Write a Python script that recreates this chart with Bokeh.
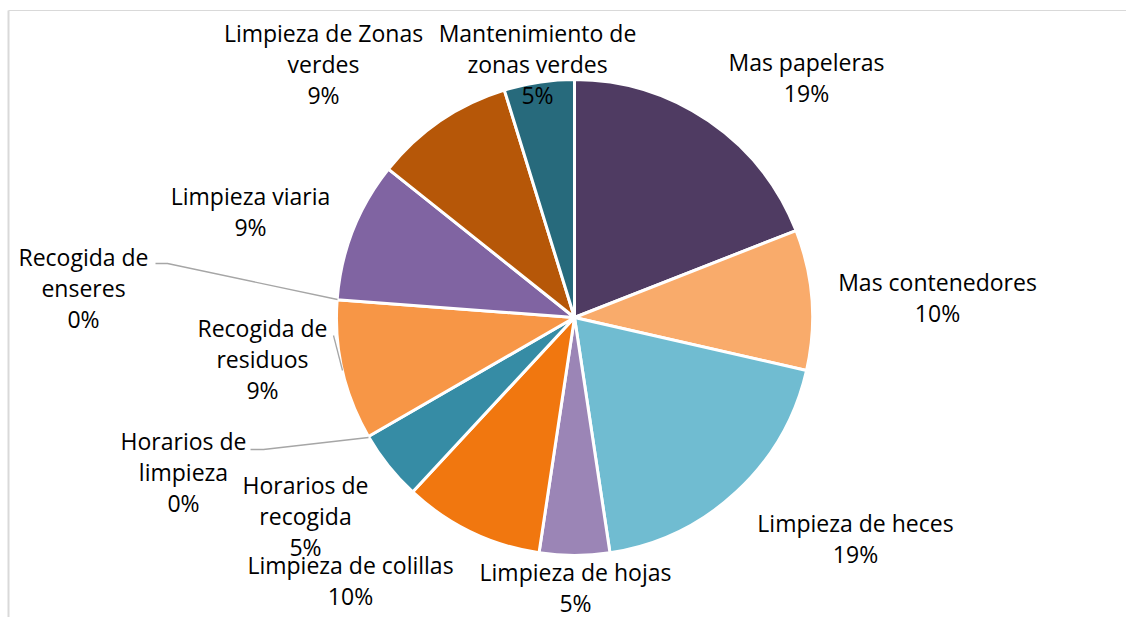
import math
from bokeh.plotting import figure
from bokeh.models import Range1d, ColumnDataSource
from bokeh.core.properties import value
from bokeh.embed import file_html
from bokeh.resources import INLINE

# ---- data ----
categories = ["Mas papeleras", "Mas contenedores", "Limpieza de heces", "Limpieza de hojas",
              "Limpieza de colillas", "Horarios de recogida", "Horarios de limpieza",
              "Recogida de residuos", "Recogida de enseres", "Limpieza viaria",
              "Limpieza de Zonas verdes", "Mantenimiento de zonas verdes"]
counts = [4, 2, 4, 1, 2, 1, 0, 2, 0, 2, 2, 1]
pct_labels = ["19%", "10%", "19%", "5%", "10%", "5%", "0%", "9%", "0%", "9%", "9%", "5%"]
label_lines = [["Mas papeleras"], ["Mas contenedores"], ["Limpieza de heces"], ["Limpieza de hojas"],
               ["Limpieza de colillas"], ["Horarios de", "recogida"], ["Horarios de", "limpieza"],
               ["Recogida de", "residuos"], ["Recogida de", "enseres"], ["Limpieza viaria"],
               ["Limpieza de Zonas", "verdes"], ["Mantenimiento de", "zonas verdes"]]
colors = ["#4F3B62", "#F9AB6B", "#70BCD1", "#9B85B6", "#F1770F", "#368CA5",
          "#8EA9DB", "#F79646", "#4BACC6", "#8064A2", "#B65708", "#276A7C"]

# ---- layout (screen pixels) ----
W, H = 1126, 617
def dx(sx): return sx
def dy(sy): return H - sy

CX, CY, R = 574, 317, 238
# label centers: (x, y of first line) in screen pixels
label_pos = [(806, 61), (937, 281), (855, 522), (575, 571), (350, 564), (305, 484),
             (183, 440), (262, 327), (83, 256), (250, 195), (323, 32), (537, 32)]
LINE_H = 31
leaders = {6: [(250, 449), (263, 449), (368, 437)],
           8: [(155, 263), (167, 263), (337, 299)],
           7: [(333, 335), (342, 370)]}

p = figure(width=W, height=H, output_backend="svg", toolbar_location=None,
           x_range=Range1d(0, W), y_range=Range1d(0, H), min_border=0,
           outline_line_color=None, background_fill_color="white")
p.axis.visible = False
p.grid.visible = False

# frame lines (chart-area border, cropped at right/bottom)
p.line([dx(8), dx(8)], [dy(10), 0], line_color="#d9d9d9", line_width=2)
p.line([dx(8), W], [dy(10), dy(10)], line_color="#d9d9d9", line_width=1.2)

total = sum(counts)
starts, ends, cols = [], [], []
cum = 0.0
for c, col in zip(counts, colors):
    a0 = math.pi / 2 - 2 * math.pi * cum / total
    cum += c
    a1 = math.pi / 2 - 2 * math.pi * cum / total
    if c > 0:
        starts.append(a1)
        ends.append(a0)
        cols.append(col)
src = ColumnDataSource(dict(start=starts, end=ends, color=cols))
p.wedge(x=dx(CX), y=dy(CY), radius=R, start_angle="start", end_angle="end",
        fill_color="color", line_color="white", line_width=3, source=src)

for i, pts in leaders.items():
    p.line([dx(a) for a, b in pts], [dy(b) for a, b in pts], line_color="#A6A6A6", line_width=1.3)

tx, ty, tt = [], [], []
for i, (lines, pct) in enumerate(zip(label_lines, pct_labels)):
    x0, y0 = label_pos[i]
    for k, t in enumerate(lines + [pct]):
        tx.append(dx(x0))
        ty.append(dy(y0 + k * LINE_H))
        tt.append(t)
p.text(x=tx, y=ty, text=tt, text_align="center", text_baseline="middle",
       text_font=value("Open Sans"), text_font_size="23px", text_color="#000000")

open("out.html", "w").write(file_html(p, INLINE))
